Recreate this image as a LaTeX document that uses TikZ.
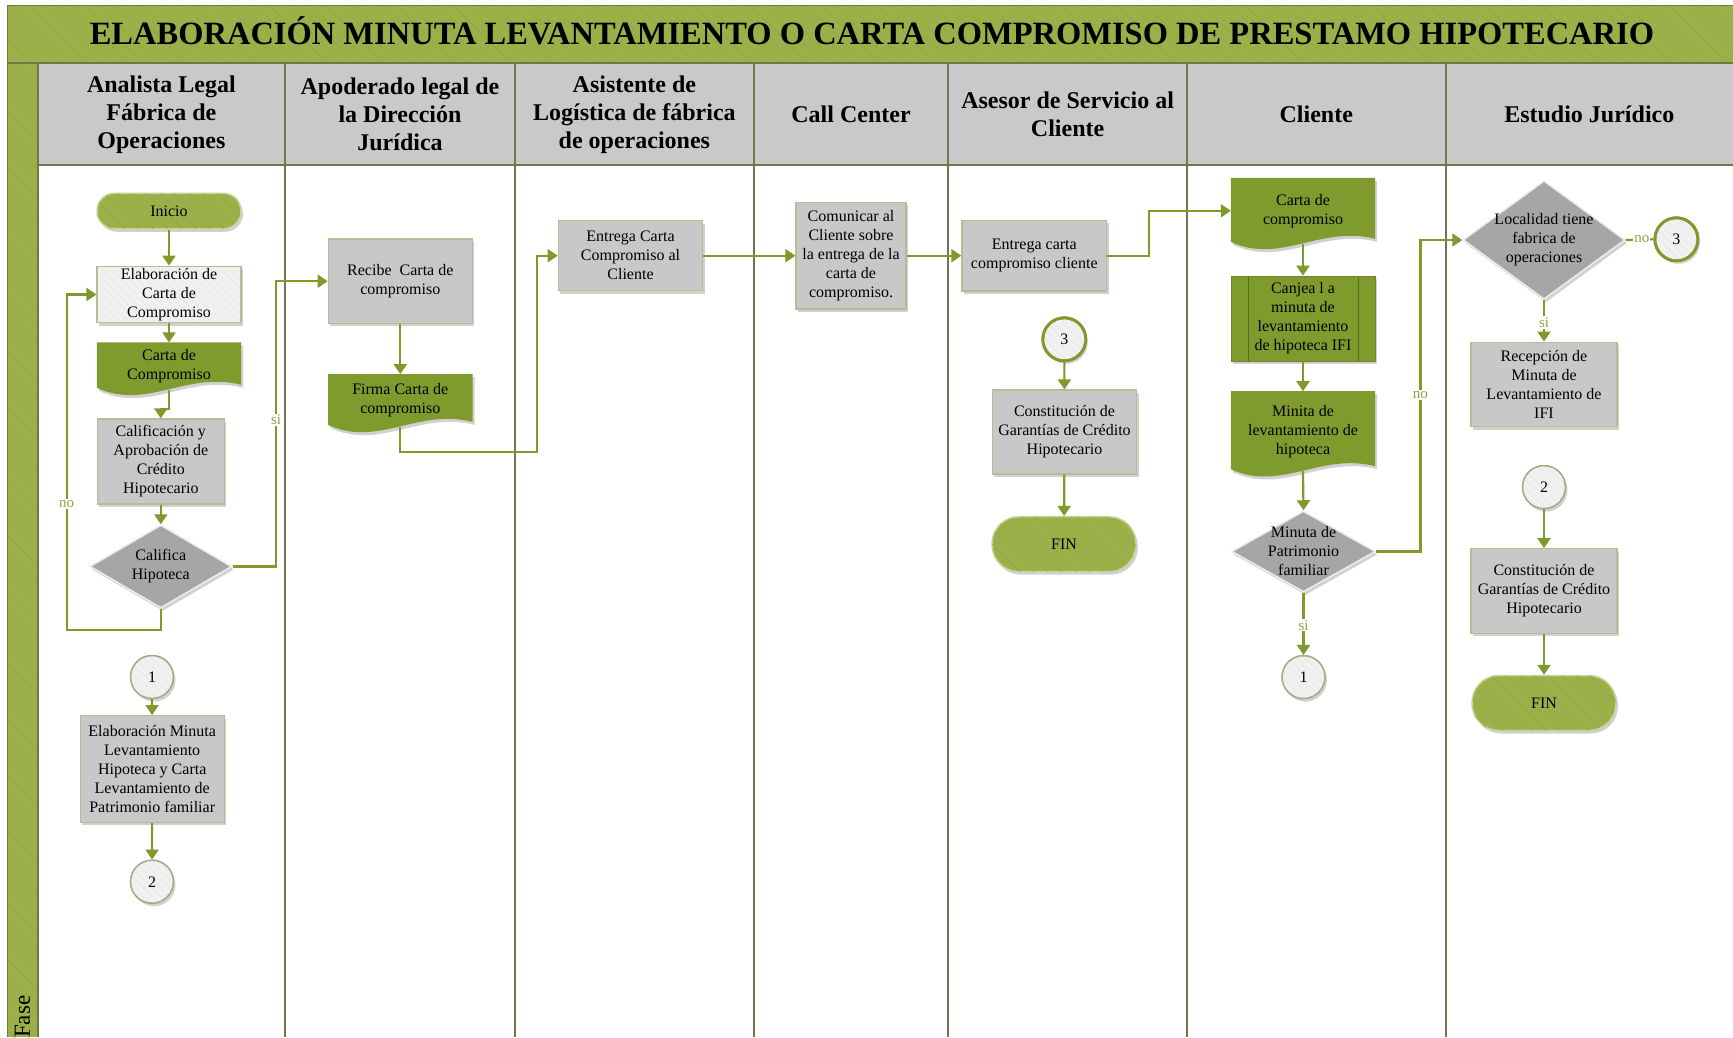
\documentclass[tikz,border=0pt]{standalone}
\usepackage{fontspec}
\setmainfont{Liberation Serif}
\usetikzlibrary{shapes.geometric,arrows.meta,shadows,patterns.meta}

\definecolor{band}{HTML}{9BB048}
\definecolor{bandhatch}{HTML}{93A843}
\definecolor{frame}{HTML}{6E7A45}
\definecolor{lane}{HTML}{6F7752}
\definecolor{headgray}{HTML}{C9C9C9}
\definecolor{procgray}{HTML}{C8C8C8}
\definecolor{procedge}{HTML}{B5BD97}
\definecolor{lightfill}{HTML}{EEEEEE}
\definecolor{lighthatch}{HTML}{F7F7F7}
\definecolor{docgreen}{HTML}{7F9B2D}
\definecolor{flow}{HTML}{7E9A2B}
\definecolor{lblgreen}{HTML}{8EA43A}
\definecolor{diagray}{HTML}{A6A6A6}
\definecolor{diaedge}{HTML}{EDEDED}
\definecolor{termedge}{HTML}{C9D49B}
\definecolor{connedge}{HTML}{A4AB85}

\pgfdeclarelayer{back}
\pgfdeclarelayer{docs}
\pgfsetlayers{back,docs,main}

% wavy-bottom document shape drawn behind a named text node
\newcommand\docwave[1]{%
  \begin{pgfonlayer}{docs}
    \fill[black,opacity=0.18]
      ([xshift=2pt,yshift=-3pt]#1.north west) -- ([xshift=2pt,yshift=-3pt]#1.north east)
      -- ([xshift=2pt,yshift=2pt]#1.south east)
      .. controls ([xshift=-53pt,yshift=16pt]#1.south east) and ([xshift=52pt,yshift=-24pt]#1.south west)
      .. ([xshift=2pt,yshift=-1pt]#1.south west) -- cycle;
    \fill[docgreen]
      (#1.north west) -- (#1.north east)
      -- ([yshift=5pt]#1.south east)
      .. controls ([xshift=-55pt,yshift=19pt]#1.south east) and ([xshift=50pt,yshift=-21pt]#1.south west)
      .. ([yshift=2pt]#1.south west) -- cycle;
  \end{pgfonlayer}}

\begin{document}
\begin{tikzpicture}[x=1pt,y=-1pt,
  txt/.style={font=\fontsize{16}{19}\selectfont,align=center,text=black},
  softshadow/.style={drop shadow={shadow xshift=2pt,shadow yshift=-3pt,opacity=0.18,fill=black}},
  lighthatching/.style={postaction={pattern={Lines[angle=-45,distance=6pt,line width=0.8pt]},pattern color=lighthatch}},
  proc/.style={txt,rectangle,fill=procgray,draw=procedge,line width=1.2pt,inner sep=2pt,softshadow},
  lightproc/.style={proc,fill=lightfill,lighthatching,postaction={draw=procedge,line width=1.2pt}},
  docbox/.style={txt,rectangle,minimum width=144pt,inner sep=1pt},
  term/.style={txt,rectangle,fill=band,draw=termedge,line width=1.5pt,minimum width=144pt,softshadow,
    postaction={pattern={Lines[angle=-45,distance=10pt,line width=0.6pt]},pattern color=bandhatch}},
  dia/.style={diamond,fill=diagray,draw=diaedge,line width=1.5pt,inner sep=0pt,softshadow},
  conn/.style={txt,circle,fill=lightfill,draw=connedge,line width=1.3pt,minimum size=43pt,inner sep=0pt,softshadow,
    lighthatching,postaction={draw=connedge,line width=1.3pt}},
  conng/.style={txt,circle,fill=lightfill,draw=flow,line width=2.8pt,minimum size=43pt,inner sep=0pt,softshadow,
    lighthatching,postaction={draw=flow,line width=2.8pt}},
  arr/.style={draw=flow,line width=2.2pt,-{Triangle[width=13pt,length=10pt]}},
  plain/.style={draw=flow,line width=2.2pt},
  lbl/.style={font=\fontsize{15}{15}\selectfont,text=lblgreen,fill=white,inner sep=1pt},
  head/.style={font=\fontsize{24}{28}\bfseries\selectfont,align=center,text=black}]

\path[use as bounding box] (0,0) rectangle (1733,1037);

% ---------- swimlane frame ----------
\begin{pgfonlayer}{back}
  \fill[white] (0,0) rectangle (1733,1037);
  \fill[band] (7.7,5.5) rectangle (1733,63);
  \fill[pattern={Lines[angle=-45,distance=10pt,line width=0.6pt]},pattern color=bandhatch] (7.7,5.5) rectangle (1733,63);
  \fill[band] (7.7,63) rectangle (37.6,1037);
  \fill[pattern={Lines[angle=-45,distance=10pt,line width=0.6pt]},pattern color=bandhatch] (7.7,63) rectangle (37.6,1037);
  \fill[headgray] (37.6,63) rectangle (1733,164.7);
  \draw[frame,line width=1.5pt] (1733,5.5) -- (7.7,5.5) -- (7.7,1037);
  \draw[frame,line width=1.5pt] (7.7,63) -- (1733,63);
  \draw[frame,line width=1.8pt] (37.6,63) -- (37.6,1037);
  \draw[lane,line width=1.6pt] (37.6,164.7) -- (1733,164.7);
  \foreach \lx in {285.1,515.0,753.8,948.3,1187.0,1445.6}
    \draw[lane,line width=1.8pt] (\lx,63) -- (\lx,1037);
\end{pgfonlayer}

% ---------- titles ----------
\node[font=\fontsize{32.5}{38}\bfseries\selectfont,anchor=base,inner sep=0pt] (title) at (872,44)
  {ELABORACIÓN MINUTA LEVANTAMIENTO O CARTA COMPROMISO DE PRESTAMO HIPOTECARIO};
\node[rotate=90,anchor=west,inner sep=0pt,font=\fontsize{23}{23}\selectfont] (fase) at (22.5,1038) {Fase};

\node[head] (h1) at (161.4,114.5) {Analista Legal\\Fábrica de\\Operaciones};
\node[head] (h2) at (400,114.5) {Apoderado legal de\\la Dirección\\Jurídica};
\node[head] (h3) at (634.4,114.5) {Asistente de\\Logística de fábrica\\de operaciones};
\node[head] (h4) at (851,114) {Call Center};
\node[head] (h5) at (1067.6,114) {Asesor de Servicio al\\Cliente};
\node[head] (h6) at (1316.3,114) {Cliente};
\node[head] (h7) at (1589.3,114) {Estudio Jurídico};

% ---------- lane 1 ----------
\node[term,minimum height=35.5pt,rounded corners=17.7pt] (inicio) at (169,211) {Inicio};
\node[lightproc,minimum width=144pt,minimum height=56.4pt] (elab) at (169,294.5) {Elaboración de\\Carta de\\Compromiso};
\node[docbox,minimum height=47pt] (carta1) at (169,366.1) {Carta de\\Compromiso};
\docwave{carta1}
\node[proc,minimum width=127pt,minimum height=85pt] (calif) at (160.8,461.5) {Calificación y\\Aprobación de\\Crédito\\Hipotecario};
\node[dia,minimum width=142pt,minimum height=83pt] (dia1) at (160.8,566.5) {};
\node[txt] (dia1t) at (dia1) {Califica\\Hipoteca};
\node[conn] (c1a) at (152,677) {1};
\node[proc,minimum width=144pt,minimum height=106.6pt] (minuta) at (152.2,769) {Elaboración Minuta\\Levantamiento\\Hipoteca y Carta\\Levantamiento de\\Patrimonio familiar};
\node[conn] (c2a) at (152,881.7) {2};

% ---------- lane 2 ----------
\node[proc,minimum width=144pt,minimum height=84.3pt] (recibe) at (400.3,281.2) {Recibe \ Carta de\\compromiso};
\node[docbox,minimum height=52.4pt] (firma) at (400.3,400.5) {Firma Carta de\\compromiso};
\docwave{firma}

% ---------- lane 3 ----------
\node[proc,minimum width=144.4pt,minimum height=70pt] (entrega) at (630.5,255.7) {Entrega Carta\\Compromiso al\\Cliente};

% ---------- lane 4 ----------
\node[proc,minimum width=110pt,minimum height=106.7pt] (comunicar) at (851,255.7) {Comunicar al\\Cliente sobre\\la entrega de la\\carta de\\compromiso.};

% ---------- lane 5 ----------
\node[proc,minimum width=144.7pt,minimum height=70.7pt] (entrega2) at (1034.3,255.7) {Entrega carta\\compromiso cliente};
\node[conng] (c3a) at (1064.3,339.3) {3};
\node[proc,minimum width=144.4pt,minimum height=84pt] (const1) at (1064.5,432) {Constitución de\\Garantías de Crédito\\Hipotecario};
\node[term,minimum height=55pt,rounded corners=27pt] (fin1) at (1064,544.2) {FIN};

% ---------- lane 6 ----------
\node[docbox,minimum height=65.7pt] (carta2) at (1303,210.8) {Carta de\\compromiso};
\docwave{carta2}
\node[txt,rectangle,fill=docgreen,draw=docgreen!85!black,line width=0.8pt,minimum width=144pt,minimum height=85pt,inner sep=1pt,softshadow,
  path picture={\draw[docgreen!70!black,line width=1pt]
    ([xshift=17pt]path picture bounding box.north west) -- ([xshift=17pt]path picture bounding box.south west)
    ([xshift=-17pt]path picture bounding box.north east) -- ([xshift=-17pt]path picture bounding box.south east);}]
  (canjea) at (1303,318.5) {Canjea l a\\minuta de\\levantamiento\\de hipoteca IFI};
\node[docbox,minimum height=79.6pt] (minita) at (1303,431.2) {Minita de\\levantamiento de\\hipoteca};
\docwave{minita}
\node[dia,minimum width=144pt,minimum height=81pt] (dia2) at (1303.5,551.5) {};
\node[txt] (dia2t) at (dia2) {Minuta de\\Patrimonio\\familiar};
\node[conn] (c1b) at (1303.5,677.1) {1};

% ---------- lane 7 ----------
\node[dia,minimum width=162pt,minimum height=118.6pt] (loc) at (1544,240) {};
\node[txt] (loct) at (loc) {Localidad tiene\\fabrica de\\operaciones};
\node[conng] (c3b) at (1676.4,239.3) {3};
\node[proc,minimum width=146pt,minimum height=84.7pt] (recep) at (1544,384.5) {Recepción de\\Minuta de\\Levantamiento de\\IFI};
\node[conn] (c2b) at (1544,487.1) {2};
\node[proc,minimum width=146pt,minimum height=84.6pt] (const2) at (1544,591) {Constitución de\\Garantías de Crédito\\Hipotecario};
\node[term,minimum height=55pt,rounded corners=27pt] (fin2) at (1544,703) {FIN};

% ---------- connectors ----------
\coordinate (noX) at (66.7,630);
\coordinate (siX) at (276,0);
\coordinate (fX) at (537,452);
\coordinate (eX) at (1149.3,0);
\coordinate (nX) at (1420.4,0);

\draw[arr] (inicio) -- (elab);
\draw[arr] (elab) -- (carta1.north);
\draw[arr] (carta1.south) -- ++(0,19) -| (calif.north);
\draw[arr] (calif) -- (dia1);
\draw[arr] (dia1.south) |- (noX) |- (elab.west);
\node[lbl] (lno1) at (66.7,504) {no};
\draw[arr] (dia1.east) -| (siX |- recibe.west) -- (recibe.west);
\node[lbl] (lsi1) at (276,420) {si};
\draw[arr] (c1a) -- (minuta);
\draw[arr] (minuta) -- (c2a);

\draw[arr] (recibe) -- (firma.north);
\draw[arr] (firma.south) |- (fX) |- (entrega.west);
\draw[arr] (entrega) -- (comunicar);
\draw[arr] (comunicar) -- (entrega2);
\draw[arr] (entrega2.east) -| (eX |- carta2.west) -- (carta2.west);
\draw[arr] (c3a) -- (const1);
\draw[arr] (const1) -- (fin1);

\draw[arr] (carta2.south) -- (canjea.north);
\draw[arr] (canjea) -- (minita.north);
\draw[arr] (minita.south) -- (dia2.north);
\draw[arr] (dia2.east) -| (nX |- loc.west) -- (loc.west);
\node[lbl] (lno2) at (1420.4,395) {no};
\draw[arr] (dia2.south) -- (c1b.north);
\node[lbl] (lsi2) at (1303.5,625.4) {si};

\draw[plain] (loc.east) -- (c3b.west);
\node[lbl] (lno3) at (1641.8,239) {no};
\draw[arr] (loc.south) -- (recep.north);
\node[lbl] (lsi3) at (1544,322.5) {si};
\draw[arr] (c2b) -- (const2);
\draw[arr] (const2) -- (fin2);

\end{tikzpicture}
\end{document}
